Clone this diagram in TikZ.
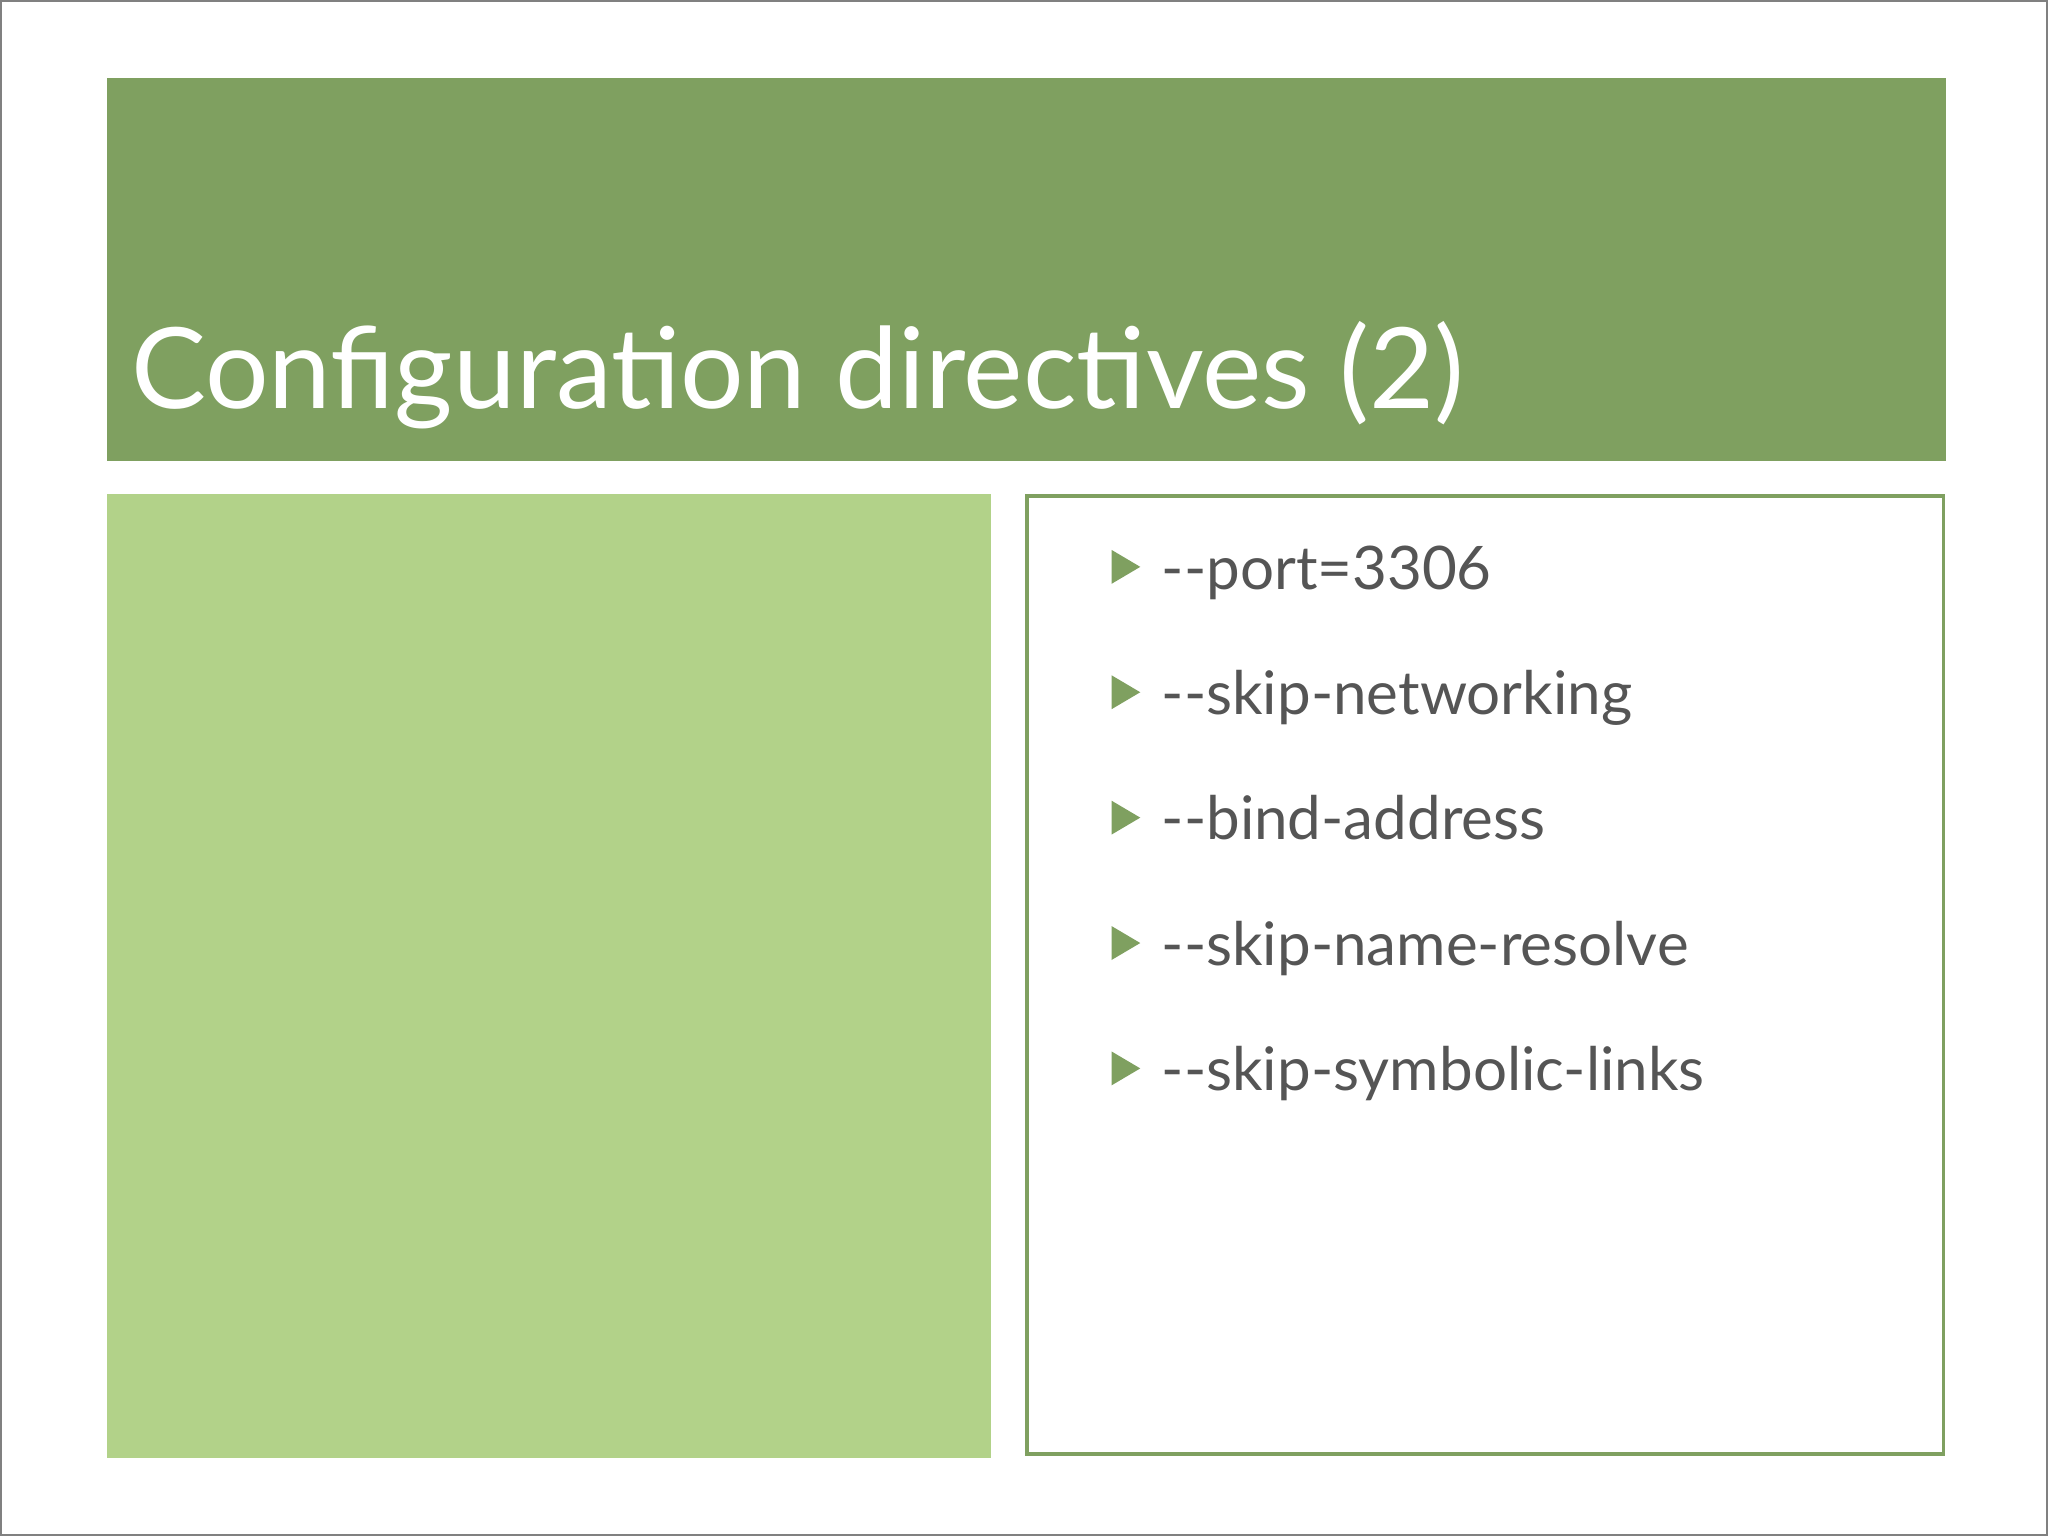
\documentclass[tikz,border=0pt]{standalone}
\usepackage{fontspec}
\setmainfont{Lato}
\definecolor{hdr}{HTML}{7FA060}
\definecolor{lgreen}{HTML}{B2D289}
\definecolor{txt}{HTML}{555555}
\begin{document}
\begin{tikzpicture}[x=0.5pt,y=-0.5pt,
  bullet/.style={fill=hdr,draw=none},
  item/.style={anchor=base west,inner sep=0pt,text=txt,font=\fontsize{23}{26}\selectfont}]
\useasboundingbox (0,0) rectangle (1568,1176);
\draw[gray,line width=1pt] (0.5,0.5) rectangle (1567.5,1175.5);
\fill[hdr] (82,60) rectangle (1490,353);
\node[anchor=base west,inner sep=0pt,text=white,font=\fontsize{43}{50}\selectfont] (title) at (100,313) {Configuration directives (2)};
\fill[lgreen] (82,378) rectangle (759,1116);
\draw[hdr,line width=1.5pt,fill=white] (786,380) rectangle (1488,1113);
\foreach \y/\t [count=\i] in {434/{-{}-port=3306},530/{-{}-skip-networking},626/{-{}-bind-address},722/{-{}-skip-name-resolve},818/{-{}-skip-symbolic-links}}{
  \fill[bullet] (851,\y-13) -- (873,\y) -- (851,\y+13) -- cycle;
  \node[item] (it\i) at (889,\y+17) {\t};
}
\end{tikzpicture}
\end{document}
